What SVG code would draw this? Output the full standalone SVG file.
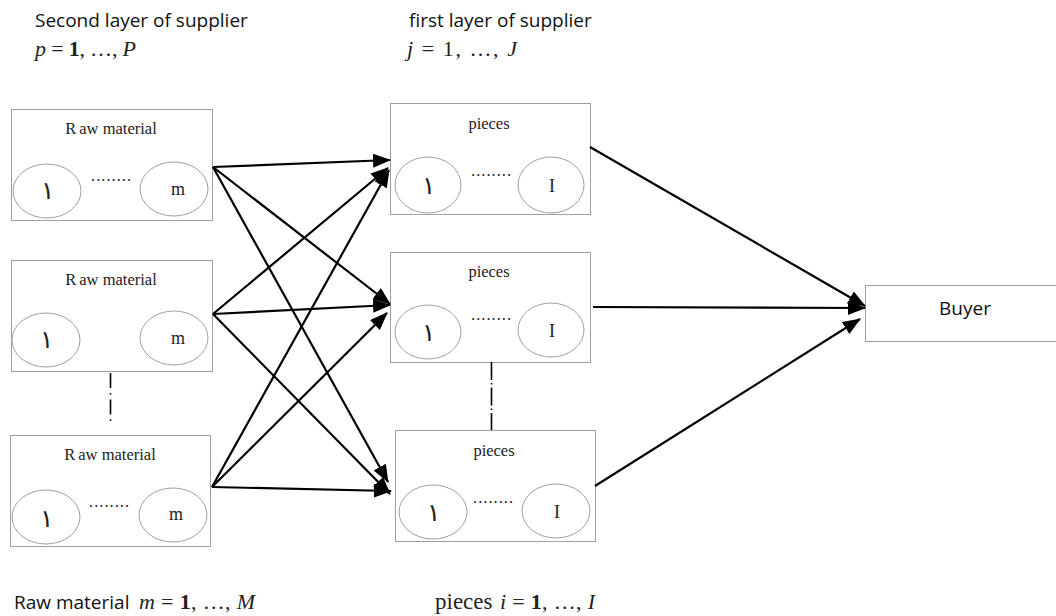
<svg xmlns="http://www.w3.org/2000/svg" width="1056" height="616" viewBox="0 0 1056 616">
  <style>
    .box { fill: #fff; stroke: #a0a0a0; stroke-width: 1; }
    .ell { fill: #fff; stroke: #a0a0a0; stroke-width: 1; }
    .serif { font-family: "Liberation Serif", "Times New Roman", serif; fill: #222; }
    .lbl { font-size: 16.5px; text-anchor: middle; }
    .idx { font-size: 18px; text-anchor: middle; }
    .dots { font-size: 16.5px; letter-spacing: 1px; }
    .ar { font-family: "DejaVu Sans", sans-serif; font-size: 25px; font-weight: 200; text-anchor: middle; fill: #222; }
    .sans { font-family: "Open Sans", "Liberation Sans", sans-serif; font-size: 19px; fill: #111; }
    .math { font-family: "Liberation Serif", "Times New Roman", serif; font-size: 22px; fill: #222; }
    .conn { stroke: #000; stroke-width: 2.2; fill: none; marker-end: url(#ah); }
    .dashdot { stroke: #000; stroke-width: 1.6; fill: none; }
  </style>
  <defs>
    <marker id="ah" markerUnits="userSpaceOnUse" markerWidth="18" markerHeight="14" refX="17" refY="7" orient="auto">
      <path d="M0,0 L18,7 L0,14 z" fill="#000"/>
    </marker>
  </defs>

  <rect width="1056" height="616" fill="#fff"/>

  <!-- column headings -->
  <g id="headings">
    <text class="sans" x="35" y="27">Second layer of supplier</text>
    <text class="math" x="35" y="56" textLength="101" lengthAdjust="spacing"><tspan font-style="italic">p</tspan> = <tspan font-weight="bold">1</tspan>, …, <tspan font-style="italic">P</tspan></text>
    <text class="sans" x="409" y="27">first layer of supplier</text>
    <text class="math" x="407" y="56" font-size="23" textLength="110" lengthAdjust="spacing"><tspan font-style="italic">j</tspan> = 1, …, <tspan font-style="italic">J</tspan></text>
  </g>

  <!-- second-layer suppliers (raw material) -->
  <g id="raw1">
    <rect class="box" x="11.5" y="109.5" width="201" height="111"/>
    <text class="serif lbl" x="111" y="134"><tspan>R</tspan><tspan dx="3">aw material</tspan></text>
    <ellipse class="ell" cx="47" cy="191" rx="34" ry="27"/>
    <ellipse class="ell" cx="174" cy="189" rx="34" ry="27"/>
    <text class="serif dots" x="91" y="181">........</text>
    <text class="ar" x="47" y="199">١</text>
    <text class="serif idx" x="178" y="195">m</text>
  </g>
  <g id="raw2">
    <rect class="box" x="11.5" y="260.5" width="201" height="111"/>
    <text class="serif lbl" x="111" y="285"><tspan>R</tspan><tspan dx="3">aw material</tspan></text>
    <ellipse class="ell" cx="46" cy="340" rx="34" ry="27"/>
    <ellipse class="ell" cx="174" cy="338" rx="34" ry="27"/>
    <text class="ar" x="46" y="348">١</text>
    <text class="serif idx" x="178" y="344">m</text>
  </g>
  <g id="raw3">
    <rect class="box" x="10.5" y="435.5" width="200" height="111"/>
    <text class="serif lbl" x="110" y="460"><tspan>R</tspan><tspan dx="3">aw material</tspan></text>
    <ellipse class="ell" cx="46" cy="517" rx="34" ry="27"/>
    <ellipse class="ell" cx="173" cy="515" rx="34" ry="27"/>
    <text class="serif dots" x="89" y="507">........</text>
    <text class="ar" x="46" y="527">١</text>
    <text class="serif idx" x="176" y="520">m</text>
  </g>

  <!-- first-layer suppliers (pieces) -->
  <g id="pieces1">
    <rect class="box" x="390.5" y="103.5" width="200" height="111"/>
    <text class="serif lbl" x="489" y="129">pieces</text>
    <ellipse class="ell" cx="428" cy="185" rx="33" ry="28"/>
    <ellipse class="ell" cx="551" cy="185" rx="33" ry="28"/>
    <text class="serif dots" x="471" y="176">........</text>
    <text class="ar" x="428" y="194">١</text>
    <text class="serif idx" x="552" y="192">I</text>
  </g>
  <g id="pieces2">
    <rect class="box" x="390.5" y="252.5" width="200" height="110"/>
    <text class="serif lbl" x="489" y="277">pieces</text>
    <ellipse class="ell" cx="428" cy="332" rx="33" ry="27"/>
    <ellipse class="ell" cx="551" cy="330" rx="33" ry="27"/>
    <text class="serif dots" x="471" y="320">........</text>
    <text class="ar" x="428" y="341">١</text>
    <text class="serif idx" x="552" y="337">I</text>
  </g>
  <g id="pieces3">
    <rect class="box" x="395.5" y="430.5" width="200" height="111"/>
    <text class="serif lbl" x="494" y="456">pieces</text>
    <ellipse class="ell" cx="433" cy="512" rx="34" ry="27"/>
    <ellipse class="ell" cx="556" cy="511" rx="34" ry="27"/>
    <text class="serif dots" x="473" y="503">........</text>
    <text class="ar" x="433" y="521">١</text>
    <text class="serif idx" x="557" y="518">I</text>
  </g>

  <!-- buyer -->
  <g id="buyer">
    <rect class="box" x="865.5" y="285.5" width="195" height="56"/>
    <text class="sans" x="965" y="315" text-anchor="middle">Buyer</text>
  </g>

  <!-- continuation marks between stacked suppliers -->
  <g id="ellipsis-marks">
    <line class="dashdot" x1="110.5" y1="373" x2="110.5" y2="424" stroke-dasharray="15,5,1.5,5"/>
    <line class="dashdot" x1="491.5" y1="362" x2="491.5" y2="430" stroke-dasharray="18,3,1.5,3"/>
  </g>

  <!-- supply links -->
  <g id="connectors">
    <line class="conn" x1="213" y1="167" x2="390" y2="160"/>
    <line class="conn" x1="213" y1="167" x2="390" y2="304"/>
    <line class="conn" x1="213" y1="167" x2="388" y2="482"/>
    <line class="conn" x1="213" y1="314" x2="388" y2="168"/>
    <line class="conn" x1="213" y1="314" x2="390" y2="305"/>
    <line class="conn" x1="213" y1="314" x2="390" y2="494"/>
    <line class="conn" x1="212" y1="487" x2="389" y2="170"/>
    <line class="conn" x1="212" y1="487" x2="387" y2="313"/>
    <line class="conn" x1="212" y1="487" x2="391" y2="491"/>
    <line class="conn" x1="590" y1="147" x2="865" y2="306"/>
    <line class="conn" x1="593" y1="307" x2="865" y2="308"/>
    <line class="conn" x1="595" y1="486" x2="860" y2="319"/>
  </g>

  <!-- index ranges -->
  <g id="footnotes">
    <text class="sans" x="14" y="609">Raw material</text>
    <text class="math" x="139" y="609" textLength="116" lengthAdjust="spacing"><tspan font-style="italic">m</tspan> = <tspan font-weight="bold">1</tspan>, …, <tspan font-style="italic">M</tspan></text>
    <text class="serif" x="435" y="609" font-size="23">pieces</text>
    <text class="math" x="500" y="609" textLength="95" lengthAdjust="spacing"><tspan font-style="italic">i</tspan> = <tspan font-weight="bold">1</tspan>, …, <tspan font-style="italic">I</tspan></text>
  </g>
</svg>
